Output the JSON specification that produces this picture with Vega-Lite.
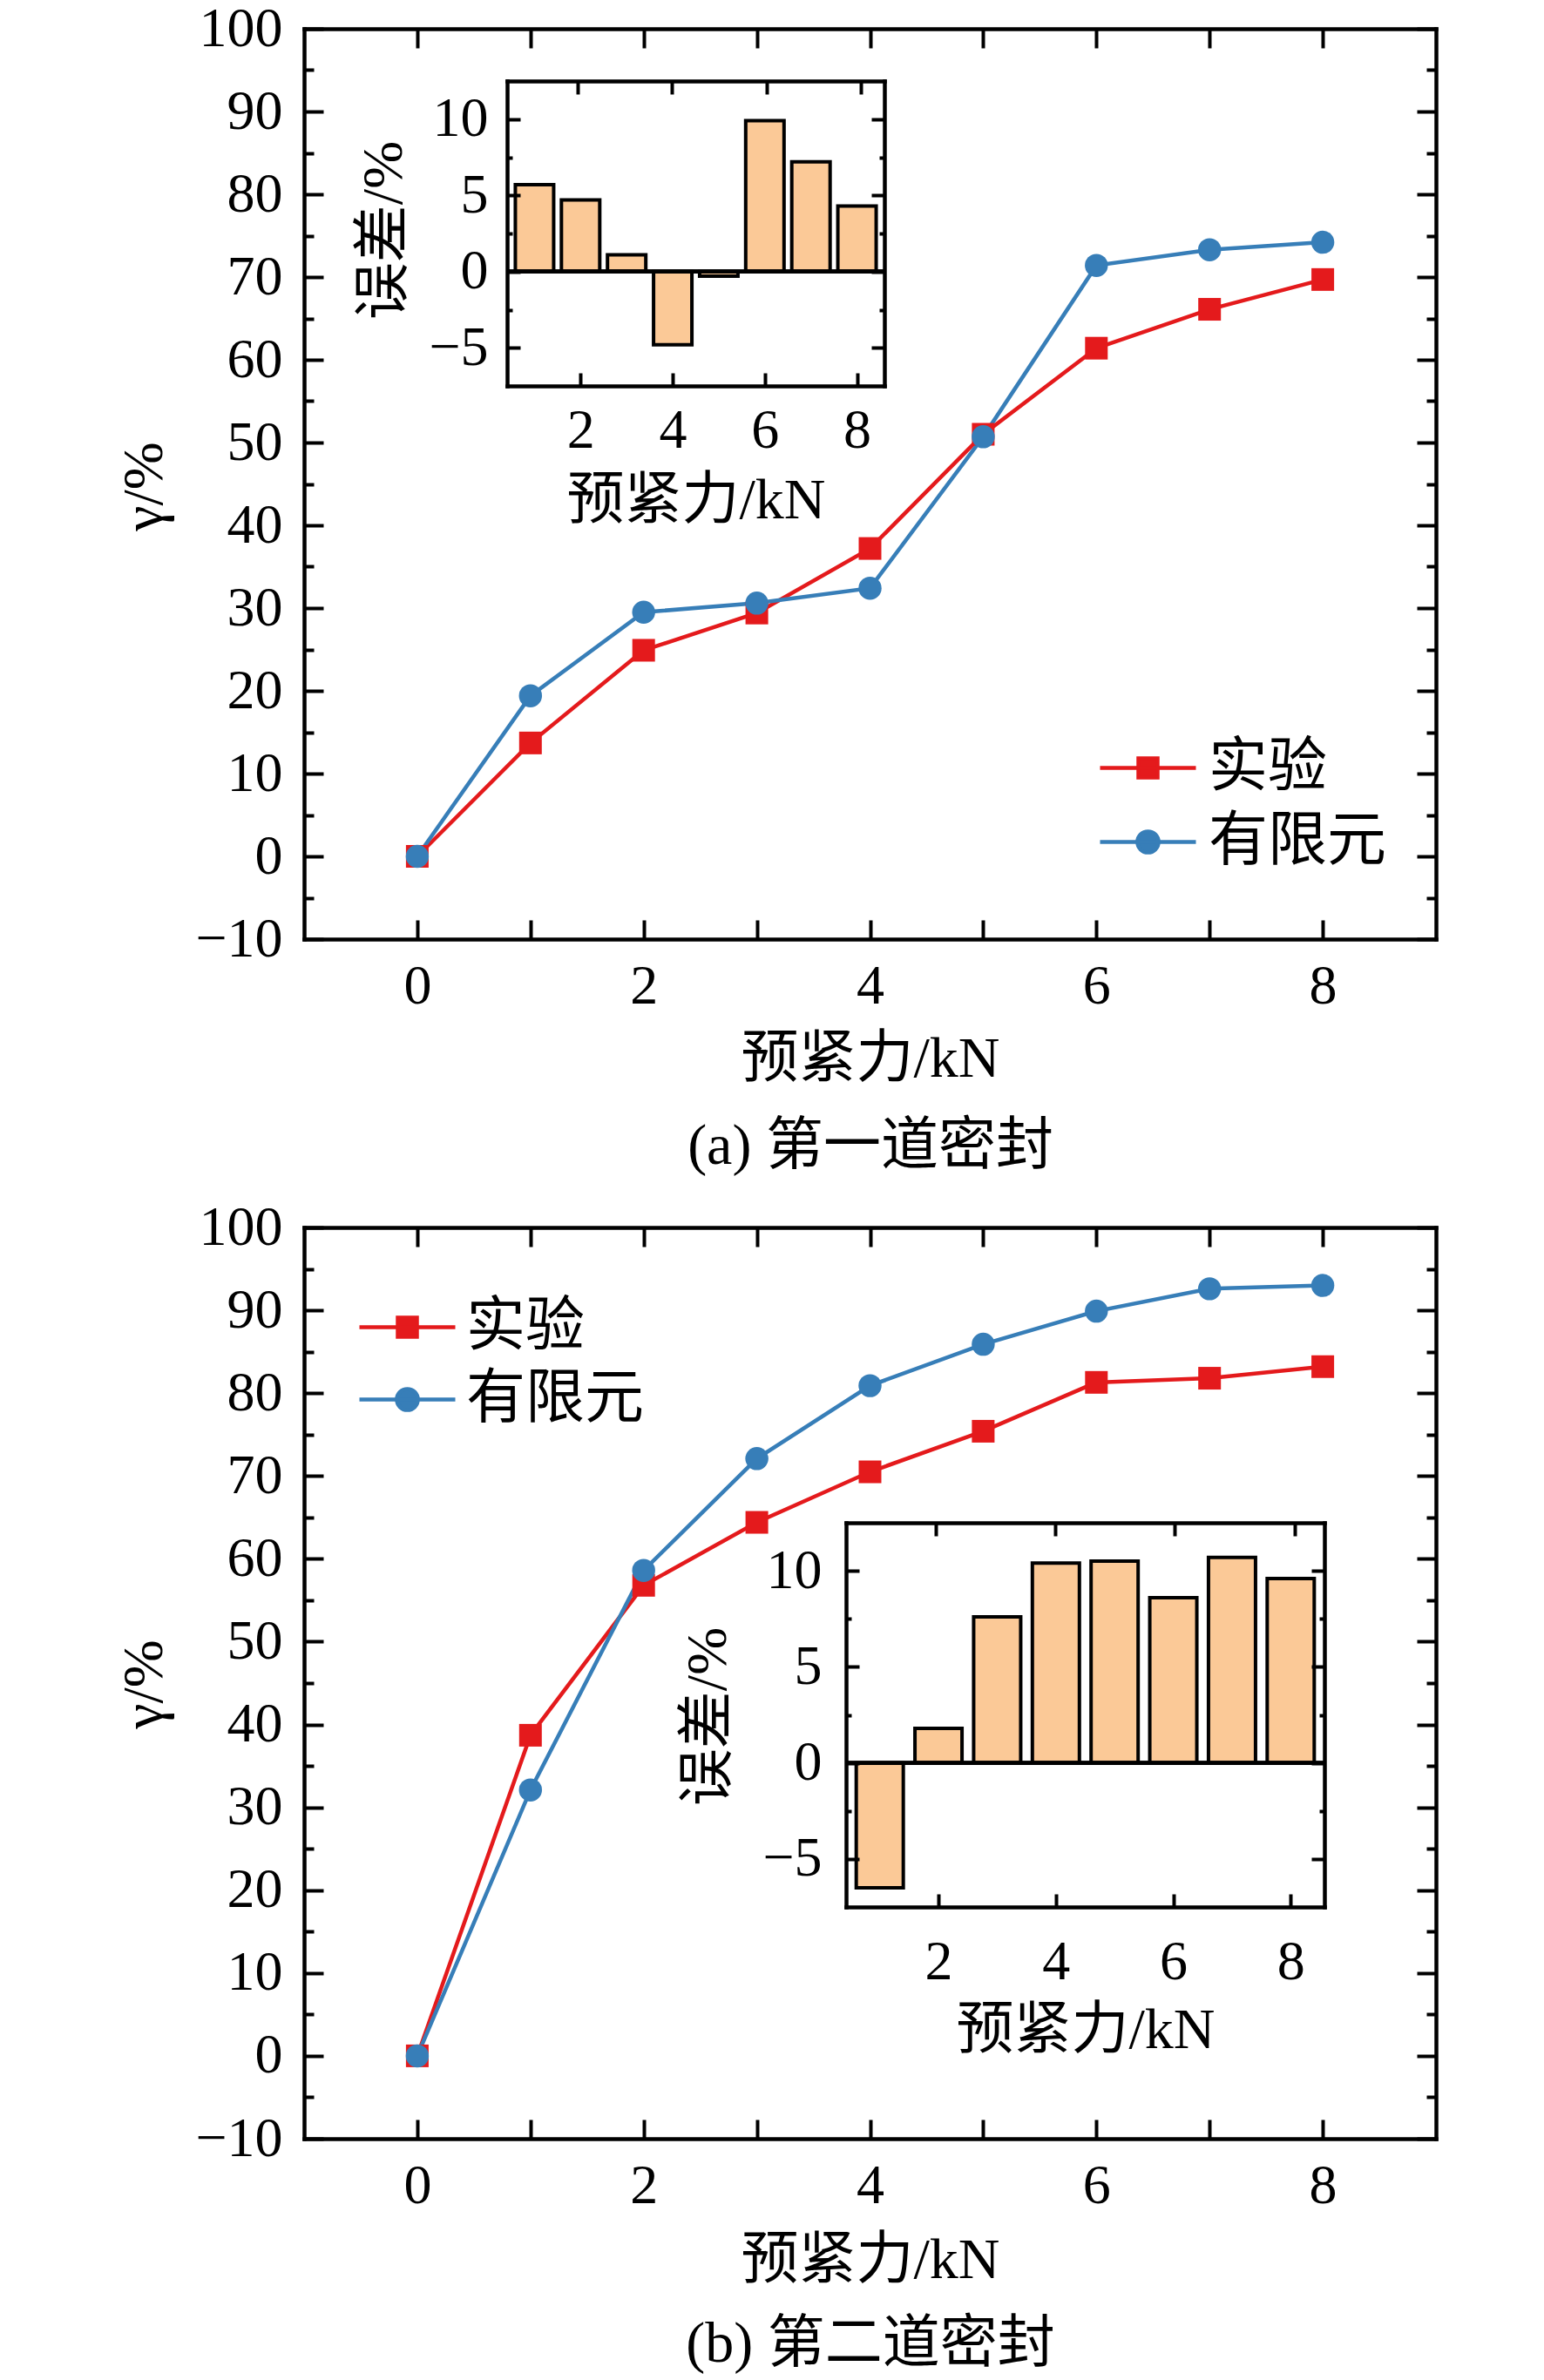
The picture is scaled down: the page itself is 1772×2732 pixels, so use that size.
{
  "$schema": "https://vega.github.io/schema/vega-lite/v6.json",
  "width": 1772,
  "height": 2732,
  "autosize": "none",
  "padding": 0,
  "background": "white",
  "datasets": {
    "a": [
      {"f": 0, "exp": 0, "fem": 0},
      {"f": 1, "exp": 13.7, "fem": 19.4},
      {"f": 2, "exp": 24.9, "fem": 29.5},
      {"f": 3, "exp": 29.4, "fem": 30.6},
      {"f": 4, "exp": 37.2, "fem": 32.4},
      {"f": 5, "exp": 51.0, "fem": 50.7},
      {"f": 6, "exp": 61.4, "fem": 71.4},
      {"f": 7, "exp": 66.1, "fem": 73.3},
      {"f": 8, "exp": 69.7, "fem": 74.2}
    ],
    "b": [
      {"f": 0, "exp": 0, "fem": 0},
      {"f": 1, "exp": 38.7, "fem": 32.1},
      {"f": 2, "exp": 56.8, "fem": 58.6},
      {"f": 3, "exp": 64.4, "fem": 72.1},
      {"f": 4, "exp": 70.5, "fem": 80.9},
      {"f": 5, "exp": 75.4, "fem": 85.9},
      {"f": 6, "exp": 81.3, "fem": 89.9},
      {"f": 7, "exp": 81.8, "fem": 92.6},
      {"f": 8, "exp": 83.2, "fem": 93.0}
    ],
    "ea": [
      {"f": 1, "err": 5.7},
      {"f": 2, "err": 4.7},
      {"f": 3, "err": 1.1},
      {"f": 4, "err": -4.8},
      {"f": 5, "err": -0.3},
      {"f": 6, "err": 9.9},
      {"f": 7, "err": 7.2},
      {"f": 8, "err": 4.3}
    ],
    "eb": [
      {"f": 1, "err": -6.5},
      {"f": 2, "err": 1.8},
      {"f": 3, "err": 7.6},
      {"f": 4, "err": 10.4},
      {"f": 5, "err": 10.5},
      {"f": 6, "err": 8.6},
      {"f": 7, "err": 10.7},
      {"f": 8, "err": 9.6}
    ]
  },
  "layer": [
    {
      "data": {"name": "a"},
      "mark": {"type": "line", "color": "#e41a1c", "strokeWidth": 4.5},
      "encoding": {
        "x": {"field": "f", "type": "quantitative",
          "scale": {"domain": [-1, 9], "range": [349, 1648], "nice": false, "zero": false},
          "axis": {"orient": "bottom", "offset": -1654, "values": [0, 1, 2, 3, 4, 5, 6, 7, 8], "tickSize": -22, "labelPadding": 44,
            "labelExpr": "datum.value % 2 === 0 ? datum.label : ''", "title": "预紧力/kN", "titleY": 137, "titleBaseline": "middle"}},
        "y": {"field": "exp", "type": "quantitative",
          "scale": {"domain": [-10, 100], "range": [1078, 33], "nice": false, "zero": false},
          "axis": {"orient": "left", "offset": -349, "values": [-10, 0, 10, 20, 30, 40, 50, 60, 70, 80, 90, 100], "tickSize": -22, "labelPadding": 47,
            "title": "γ/%", "titleX": -184, "titleY": 558, "titleAngle": -90, "titleBaseline": "middle", "titleAlign": "center"}}
      }
    },
    {
      "data": {"name": "a"},
      "mark": {"type": "line", "color": "#377eb8", "strokeWidth": 4.5},
      "encoding": {
        "x": {"field": "f", "type": "quantitative",
          "scale": {"domain": [-1, 9], "range": [349, 1648], "nice": false, "zero": false},
          "axis": {"orient": "top", "offset": -33, "values": [0, 1, 2, 3, 4, 5, 6, 7, 8], "tickSize": -22, "labels": false, "title": null}},
        "y": {"field": "fem", "type": "quantitative",
          "scale": {"domain": [-10, 100], "range": [1078, 33], "nice": false, "zero": false},
          "axis": {"orient": "right", "offset": -124, "values": [-10, 0, 10, 20, 30, 40, 50, 60, 70, 80, 90, 100], "tickSize": -22, "labels": false, "title": null}}
      }
    },
    {
      "data": {"name": "a"},
      "mark": {"type": "point", "shape": "square", "filled": true, "size": 676, "opacity": 1},
      "encoding": {
        "x": {"field": "f", "type": "quantitative",
          "scale": {"domain": [-1, 9], "range": [349, 1648], "nice": false, "zero": false},
          "axis": {"orient": "bottom", "offset": -1654, "domain": false, "ticks": false, "labels": false,
            "title": "(a) 第一道密封", "titleY": 237, "titleBaseline": "middle"}},
        "y": {"field": "exp", "type": "quantitative",
          "scale": {"domain": [-10, 100], "range": [1078, 33], "nice": false, "zero": false},
          "axis": {"orient": "left", "offset": -349, "values": [-5, 5, 15, 25, 35, 45, 55, 65, 75, 85, 95], "tickSize": -11, "labels": false, "domain": false, "title": null}},
        "color": {"datum": "实验", "type": "nominal",
          "scale": {"domain": ["实验"], "range": ["#e41a1c"]},
          "legend": {"orient": "none", "legendX": 1260, "legendY": 824, "title": null,
            "symbolType": "M-1,0H1M-0.2,-0.2H0.2V0.2H-0.2Z", "symbolSize": 12100, "symbolStrokeWidth": 4.5,
            "symbolStrokeColor": "#e41a1c", "symbolFillColor": "#e41a1c", "symbolOpacity": 1, "labelOffset": 12,
            "encode": {"symbols": {"update": {"shape": {"value": "M-1,0H1M-0.2,-0.2H0.2V0.2H-0.2Z"}, "fill": {"value": "#e41a1c"}, "stroke": {"value": "#e41a1c"}, "strokeWidth": {"value": 4.5}, "opacity": {"value": 1}}}}}}
      }
    },
    {
      "data": {"name": "a"},
      "mark": {"type": "point", "shape": "circle", "filled": true, "size": 700, "opacity": 1},
      "encoding": {
        "x": {"field": "f", "type": "quantitative",
          "scale": {"domain": [-1, 9], "range": [349, 1648], "nice": false, "zero": false}, "axis": null},
        "y": {"field": "fem", "type": "quantitative",
          "scale": {"domain": [-10, 100], "range": [1078, 33], "nice": false, "zero": false},
          "axis": {"orient": "right", "offset": -124, "values": [-5, 5, 15, 25, 35, 45, 55, 65, 75, 85, 95], "tickSize": -11, "labels": false, "domain": false, "title": null}},
        "color": {"datum": "有限元", "type": "nominal",
          "scale": {"domain": ["有限元"], "range": ["#377eb8"]},
          "legend": {"orient": "none", "legendX": 1260, "legendY": 909, "title": null,
            "symbolType": "M-1,0H1M0.22,0A0.22,0.22 0 1,1 -0.22,0A0.22,0.22 0 1,1 0.22,0", "symbolSize": 12100, "symbolStrokeWidth": 4.5,
            "symbolStrokeColor": "#377eb8", "symbolFillColor": "#377eb8", "symbolOpacity": 1, "labelOffset": 12,
            "encode": {"symbols": {"update": {"shape": {"value": "M-1,0H1M0.22,0A0.22,0.22 0 1,1 -0.22,0A0.22,0.22 0 1,1 0.22,0"}, "fill": {"value": "#377eb8"}, "stroke": {"value": "#377eb8"}, "strokeWidth": {"value": 4.5}, "opacity": {"value": 1}}}}}}
      }
    },
    {
      "data": {"name": "ea"},
      "mark": {"type": "bar", "size": 44, "fill": "#fbc997", "stroke": "black", "strokeWidth": 4},
      "encoding": {
        "x": {"field": "f", "type": "quantitative",
          "scale": {"domain": [0.5, 8.5], "range": [582, 1015], "nice": false, "zero": false},
          "axis": {"orient": "bottom", "offset": -2289, "values": [2, 4, 6, 8], "tickSize": -15, "labelPadding": 34, "zindex": 1,
            "title": "预紧力/kN", "titleY": 131, "titleBaseline": "middle"}},
        "y": {"field": "err", "type": "quantitative",
          "scale": {"domain": [-7.5, 12.5], "range": [443, 93], "nice": false, "zero": false},
          "axis": {"orient": "left", "offset": -582, "values": [-5, 0, 5, 10], "tickSize": -15, "labelPadding": 37, "zindex": 1,
            "title": "误差/%", "titleX": -142, "titleY": 264, "titleAngle": -90, "titleBaseline": "middle", "titleAlign": "center"}},
        "y2": {"datum": 0}
      }
    },
    {
      "data": {"name": "ea"},
      "mark": {"type": "rule", "color": "black", "strokeWidth": 4},
      "encoding": {
        "x": {"datum": 0.5, "type": "quantitative",
          "scale": {"domain": [0.5, 8.5], "range": [582, 1015], "nice": false, "zero": false},
          "axis": {"orient": "top", "offset": -93, "values": [2, 4, 6, 8], "tickSize": -15, "labels": false, "title": null, "zindex": 1}},
        "x2": {"datum": 8.5},
        "y": {"datum": 0, "type": "quantitative",
          "scale": {"domain": [-7.5, 12.5], "range": [443, 93], "nice": false, "zero": false},
          "axis": {"orient": "right", "offset": -757, "values": [-5, 0, 5, 10], "tickSize": -15, "labels": false, "title": null, "zindex": 1}}
      }
    },
    {
      "data": {"name": "ea"},
      "mark": {"type": "point", "opacity": 0},
      "encoding": {
        "x": {"field": "f", "type": "quantitative",
          "scale": {"domain": [0.5, 8.5], "range": [582, 1015], "nice": false, "zero": false}, "axis": null},
        "y": {"field": "err", "type": "quantitative",
          "scale": {"domain": [-7.5, 12.5], "range": [443, 93], "nice": false, "zero": false},
          "axis": {"orient": "left", "offset": -582, "values": [-2.5, 2.5, 7.5], "tickSize": -6, "labels": false, "domain": false, "title": null, "zindex": 1}}
      }
    },
    {
      "data": {"name": "ea"},
      "mark": {"type": "point", "opacity": 0},
      "encoding": {
        "x": {"field": "f", "type": "quantitative",
          "scale": {"domain": [0.5, 8.5], "range": [582, 1015], "nice": false, "zero": false}, "axis": null},
        "y": {"field": "err", "type": "quantitative",
          "scale": {"domain": [-7.5, 12.5], "range": [443, 93], "nice": false, "zero": false},
          "axis": {"orient": "right", "offset": -757, "values": [-2.5, 2.5, 7.5], "tickSize": -6, "labels": false, "domain": false, "title": null, "zindex": 1}}
      }
    },
    {
      "data": {"name": "b"},
      "mark": {"type": "line", "color": "#e41a1c", "strokeWidth": 4.5},
      "encoding": {
        "x": {"field": "f", "type": "quantitative",
          "scale": {"domain": [-1, 9], "range": [349, 1648], "nice": false, "zero": false},
          "axis": {"orient": "bottom", "offset": -277, "values": [0, 1, 2, 3, 4, 5, 6, 7, 8], "tickSize": -22, "labelPadding": 44,
            "labelExpr": "datum.value % 2 === 0 ? datum.label : ''", "title": "预紧力/kN", "titleY": 139, "titleBaseline": "middle"}},
        "y": {"field": "exp", "type": "quantitative",
          "scale": {"domain": [-10, 100], "range": [2455, 1409], "nice": false, "zero": false},
          "axis": {"orient": "left", "offset": -349, "values": [-10, 0, 10, 20, 30, 40, 50, 60, 70, 80, 90, 100], "tickSize": -22, "labelPadding": 47,
            "title": "γ/%", "titleX": -184, "titleY": 1933, "titleAngle": -90, "titleBaseline": "middle", "titleAlign": "center"}}
      }
    },
    {
      "data": {"name": "b"},
      "mark": {"type": "line", "color": "#377eb8", "strokeWidth": 4.5},
      "encoding": {
        "x": {"field": "f", "type": "quantitative",
          "scale": {"domain": [-1, 9], "range": [349, 1648], "nice": false, "zero": false},
          "axis": {"orient": "top", "offset": -1409, "values": [0, 1, 2, 3, 4, 5, 6, 7, 8], "tickSize": -22, "labels": false, "title": null}},
        "y": {"field": "fem", "type": "quantitative",
          "scale": {"domain": [-10, 100], "range": [2455, 1409], "nice": false, "zero": false},
          "axis": {"orient": "right", "offset": -124, "values": [-10, 0, 10, 20, 30, 40, 50, 60, 70, 80, 90, 100], "tickSize": -22, "labels": false, "title": null}}
      }
    },
    {
      "data": {"name": "b"},
      "mark": {"type": "point", "shape": "square", "filled": true, "size": 676, "opacity": 1},
      "encoding": {
        "x": {"field": "f", "type": "quantitative",
          "scale": {"domain": [-1, 9], "range": [349, 1648], "nice": false, "zero": false},
          "axis": {"orient": "bottom", "offset": -277, "domain": false, "ticks": false, "labels": false,
            "title": "(b) 第二道密封", "titleY": 235, "titleBaseline": "middle"}},
        "y": {"field": "exp", "type": "quantitative",
          "scale": {"domain": [-10, 100], "range": [2455, 1409], "nice": false, "zero": false},
          "axis": {"orient": "left", "offset": -349, "values": [-5, 5, 15, 25, 35, 45, 55, 65, 75, 85, 95], "tickSize": -11, "labels": false, "domain": false, "title": null}},
        "color": {"datum": "实验", "type": "nominal",
          "scale": {"domain": ["实验"], "range": ["#e41a1c"]},
          "legend": {"orient": "none", "legendX": 410, "legendY": 1466, "title": null,
            "symbolType": "M-1,0H1M-0.2,-0.2H0.2V0.2H-0.2Z", "symbolSize": 12100, "symbolStrokeWidth": 4.5,
            "symbolStrokeColor": "#e41a1c", "symbolFillColor": "#e41a1c", "symbolOpacity": 1, "labelOffset": 10,
            "encode": {"symbols": {"update": {"shape": {"value": "M-1,0H1M-0.2,-0.2H0.2V0.2H-0.2Z"}, "fill": {"value": "#e41a1c"}, "stroke": {"value": "#e41a1c"}, "strokeWidth": {"value": 4.5}, "opacity": {"value": 1}}}}}}
      }
    },
    {
      "data": {"name": "b"},
      "mark": {"type": "point", "shape": "circle", "filled": true, "size": 700, "opacity": 1},
      "encoding": {
        "x": {"field": "f", "type": "quantitative",
          "scale": {"domain": [-1, 9], "range": [349, 1648], "nice": false, "zero": false}, "axis": null},
        "y": {"field": "fem", "type": "quantitative",
          "scale": {"domain": [-10, 100], "range": [2455, 1409], "nice": false, "zero": false},
          "axis": {"orient": "right", "offset": -124, "values": [-5, 5, 15, 25, 35, 45, 55, 65, 75, 85, 95], "tickSize": -11, "labels": false, "domain": false, "title": null}},
        "color": {"datum": "有限元", "type": "nominal",
          "scale": {"domain": ["有限元"], "range": ["#377eb8"]},
          "legend": {"orient": "none", "legendX": 410, "legendY": 1549, "title": null,
            "symbolType": "M-1,0H1M0.22,0A0.22,0.22 0 1,1 -0.22,0A0.22,0.22 0 1,1 0.22,0", "symbolSize": 12100, "symbolStrokeWidth": 4.5,
            "symbolStrokeColor": "#377eb8", "symbolFillColor": "#377eb8", "symbolOpacity": 1, "labelOffset": 10,
            "encode": {"symbols": {"update": {"shape": {"value": "M-1,0H1M0.22,0A0.22,0.22 0 1,1 -0.22,0A0.22,0.22 0 1,1 0.22,0"}, "fill": {"value": "#377eb8"}, "stroke": {"value": "#377eb8"}, "strokeWidth": {"value": 4.5}, "opacity": {"value": 1}}}}}}
      }
    },
    {
      "data": {"name": "eb"},
      "mark": {"type": "bar", "size": 54, "fill": "#fbc997", "stroke": "black", "strokeWidth": 4},
      "encoding": {
        "x": {"field": "f", "type": "quantitative",
          "scale": {"domain": [0.5, 8.5], "range": [971, 1520], "nice": false, "zero": false},
          "axis": {"orient": "bottom", "offset": -543, "values": [2, 4, 6, 8], "tickSize": -15, "labelPadding": 46, "zindex": 1,
            "title": "预紧力/kN", "titleY": 141, "titleBaseline": "middle"}},
        "y": {"field": "err", "type": "quantitative",
          "scale": {"domain": [-7.5, 12.5], "range": [2189, 1748], "nice": false, "zero": false},
          "axis": {"orient": "left", "offset": -971, "values": [-5, 0, 5, 10], "tickSize": -15, "labelPadding": 43, "zindex": 1,
            "title": "误差/%", "titleX": -159, "titleY": 1970, "titleAngle": -90, "titleBaseline": "middle", "titleAlign": "center"}},
        "y2": {"datum": 0}
      }
    },
    {
      "data": {"name": "eb"},
      "mark": {"type": "rule", "color": "black", "strokeWidth": 4},
      "encoding": {
        "x": {"datum": 0.5, "type": "quantitative",
          "scale": {"domain": [0.5, 8.5], "range": [971, 1520], "nice": false, "zero": false},
          "axis": {"orient": "top", "offset": -1748, "values": [2, 4, 6, 8], "tickSize": -15, "labels": false, "title": null, "zindex": 1}},
        "x2": {"datum": 8.5},
        "y": {"datum": 0, "type": "quantitative",
          "scale": {"domain": [-7.5, 12.5], "range": [2189, 1748], "nice": false, "zero": false},
          "axis": {"orient": "right", "offset": -252, "values": [-5, 0, 5, 10], "tickSize": -15, "labels": false, "title": null, "zindex": 1}}
      }
    },
    {
      "data": {"name": "eb"},
      "mark": {"type": "point", "opacity": 0},
      "encoding": {
        "x": {"field": "f", "type": "quantitative",
          "scale": {"domain": [0.5, 8.5], "range": [971, 1520], "nice": false, "zero": false}, "axis": null},
        "y": {"field": "err", "type": "quantitative",
          "scale": {"domain": [-7.5, 12.5], "range": [2189, 1748], "nice": false, "zero": false},
          "axis": {"orient": "left", "offset": -971, "values": [-2.5, 2.5, 7.5], "tickSize": -6, "labels": false, "domain": false, "title": null, "zindex": 1}}
      }
    },
    {
      "data": {"name": "eb"},
      "mark": {"type": "point", "opacity": 0},
      "encoding": {
        "x": {"field": "f", "type": "quantitative",
          "scale": {"domain": [0.5, 8.5], "range": [971, 1520], "nice": false, "zero": false}, "axis": null},
        "y": {"field": "err", "type": "quantitative",
          "scale": {"domain": [-7.5, 12.5], "range": [2189, 1748], "nice": false, "zero": false},
          "axis": {"orient": "right", "offset": -252, "values": [-2.5, 2.5, 7.5], "tickSize": -6, "labels": false, "domain": false, "title": null, "zindex": 1}}
      }
    }
  ],
  "resolve": {
    "scale": {"x": "independent", "y": "independent", "color": "independent"},
    "axis": {"x": "independent", "y": "independent"},
    "legend": {"color": "independent"}
  },
  "config": {
    "view": {"stroke": null},
    "axis": {
      "grid": false,
      "domainColor": "black",
      "domainWidth": 4.5,
      "domainCap": "square",
      "tickColor": "black",
      "tickWidth": 4,
      "labelFont": "Liberation Serif",
      "labelFontSize": 64,
      "labelColor": "black",
      "labelFlush": false,
      "labelOverlap": false,
      "titleFont": "Liberation Serif, Noto Sans CJK SC",
      "titleFontSize": 66,
      "titleFontWeight": "normal",
      "titleColor": "black"
    },
    "legend": {
      "labelFont": "Liberation Serif, Noto Sans CJK SC",
      "labelFontSize": 68,
      "labelColor": "black",
      "labelLimit": 400,
      "padding": 0,
      "offset": 0
    }
  }
}
